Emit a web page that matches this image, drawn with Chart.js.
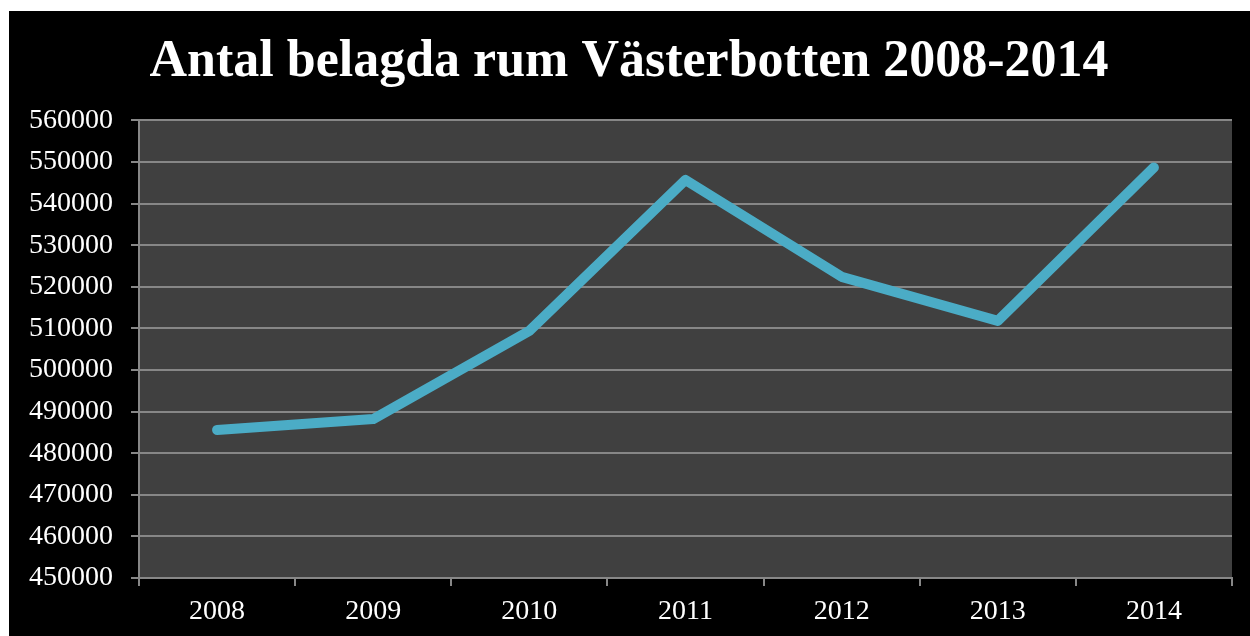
<!DOCTYPE html>
<html>
<head>
<meta charset="utf-8">
<script src="https://cdn.jsdelivr.net/npm/chart.js@4"></script>
<style>
  html, body { margin: 0; padding: 0; background: #ffffff; }
  #box { position: absolute; left: 9px; top: 11px; width: 1241px; height: 625px; background: #000000; }
</style>
</head>
<body>
<div id="box"><canvas id="roomChart" width="1241" height="625"></canvas></div>
<script>
const years = ['2008', '2009', '2010', '2011', '2012', '2013', '2014'];
const rooms = [485600, 488200, 509400, 545700, 522400, 511800, 548700];
const yMin = 450000;
const yMax = 560000;
const yStep = 10000;

// fill the plot area grey before the grid is drawn
const plotBackground = {
    id: 'plotBackground',
    beforeDraw(chart) {
        const { ctx, chartArea } = chart;
        ctx.save();
        ctx.fillStyle = '#404040';
        ctx.fillRect(chartArea.left, chartArea.top, chartArea.right - chartArea.left, chartArea.bottom - chartArea.top);
        ctx.restore();
    }
};

const gridGrey = '#878787';
const tickFont = { family: 'Liberation Serif', size: 28 };

new Chart(document.getElementById('roomChart'), {
    type: 'line',
    data: {
        labels: years,
        datasets: [{
            label: 'Antal belagda rum',
            data: rooms,
            borderColor: '#4bacc6',
            borderWidth: 10,
            borderCapStyle: 'round',
            borderJoinStyle: 'round',
            pointRadius: 0,
            tension: 0,
            fill: false
        }]
    },
    options: {
        responsive: false,
        animation: false,
        devicePixelRatio: 1,
        layout: { padding: { left: 17, right: 18, top: 8, bottom: 7 } },
        plugins: {
            legend: { display: false },
            tooltip: { enabled: false },
            title: {
                display: true,
                text: 'Antal belagda rum Västerbotten 2008-2014',
                color: '#ffffff',
                font: { family: 'Liberation Serif', size: 52, weight: 'bold' },
                padding: { top: 12, bottom: 27 }
            }
        },
        scales: {
            x: {
                offset: true,
                afterFit: (scale) => { scale.height = 51; },
                grid: {
                    offset: true,
                    drawOnChartArea: false,
                    drawTicks: true,
                    tickLength: 8,
                    color: gridGrey,
                    lineWidth: 2
                },
                border: { color: gridGrey, width: 2 },
                ticks: { color: '#ffffff', font: tickFont, padding: 9, maxRotation: 0 }
            },
            y: {
                min: yMin,
                max: yMax,
                afterFit: (scale) => { scale.width = 113; },
                grid: {
                    color: gridGrey,
                    lineWidth: 2,
                    tickLength: 8
                },
                border: { color: gridGrey, width: 2 },
                ticks: {
                    stepSize: yStep,
                    color: '#ffffff',
                    font: tickFont,
                    padding: 18,
                    callback: (v) => String(v)
                }
            }
        }
    },
    plugins: [plotBackground]
});
</script>
</body>
</html>
